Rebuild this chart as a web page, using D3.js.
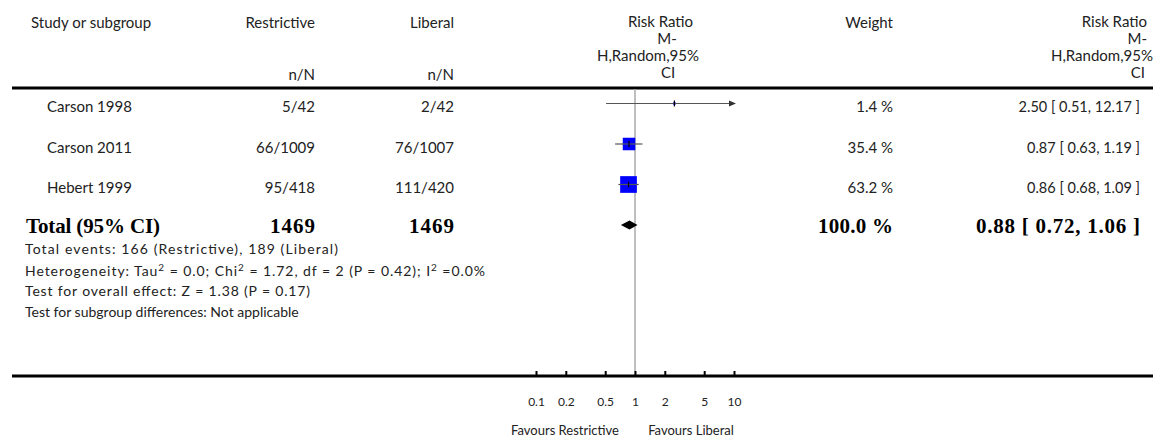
<!DOCTYPE html>
<html><head><meta charset="utf-8">
<script src="https://cdn.jsdelivr.net/npm/d3@7/dist/d3.min.js"></script>
<style>
body{margin:0;background:#fff;}
svg text{font-family:Lato,"Open Sans",sans-serif;fill:#222;}
.b{font-family:"Liberation Serif","DejaVu Serif",serif !important;font-weight:bold;fill:#000 !important;}
</style></head><body>
<svg id="c" width="1167" height="439"></svg>
<script>
const studies = ["Carson 1998","Carson 2011","Hebert 1999"];
const restrictive = ["5/42","66/1009","95/418"];
const liberal = ["2/42","76/1007","111/420"];
const weights = [1.4, 35.4, 63.2];
const rr = [2.50, 0.87, 0.86];
const lower = [0.51, 0.63, 0.68];
const upper = [12.17, 1.19, 1.09];
const total = {label:"Total (95% CI)", nR:"1469", nL:"1469", weight:"100.0 %", rr:0.88, lo:0.72, hi:1.06};
const tickValues = [0.1, 0.2, 0.5, 1, 2, 5, 10];
const tickLabels = ["0.1","0.2","0.5","1","2","5","10"];
const footnotes = [
  "Total events: 166 (Restrictive), 189 (Liberal)",
  "HET",
  "Test for overall effect: Z = 1.38 (P = 0.17)",
  "Test for subgroup differences: Not applicable"
];
const favours = ["Favours Restrictive","Favours Liberal"];

const svg = d3.select("#c");
const x = d3.scaleLog().domain([0.1, 10]).range([536, 734]);
const rows = studies.concat(["Total"]);
const y = d3.scalePoint().domain(rows).range([103.5, 225]);
const boxSize = d3.scaleSqrt().domain([0, 35.4]).range([0, 12.5]);
const fmt = d3.format(".2f");

// header
const hdr = svg.append("g").attr("font-size", 15);
hdr.append("text").attr("x", 31).attr("y", 28).text("Study or subgroup");
hdr.append("text").attr("x", 315).attr("y", 28).attr("text-anchor","end").text("Restrictive");
hdr.append("text").attr("x", 454).attr("y", 28).attr("text-anchor","end").text("Liberal");
hdr.append("text").attr("x", 315).attr("y", 80).attr("text-anchor","end").text("n/N");
hdr.append("text").attr("x", 454).attr("y", 80).attr("text-anchor","end").text("n/N");
const rrLines = ["Risk Ratio","M-","H,Random,95%","CI"];
const rrCx = [660.5, 667, 648, 668];
rrLines.forEach((t,i)=>hdr.append("text").attr("x", rrCx[i]).attr("y", 27+17*i).attr("text-anchor","middle").text(t));
hdr.append("text").attr("x", 893).attr("y", 28).attr("text-anchor","end").text("Weight");
const rrRx = [1147, 1147, 1153, 1145];
rrLines.forEach((t,i)=>hdr.append("text").attr("x", rrRx[i]).attr("y", 27+17*i).attr("text-anchor","end").text(t));

svg.append("line").attr("x1",12).attr("x2",1153).attr("y1",88).attr("y2",88).attr("stroke","#000").attr("stroke-width",3);

// vertical line of no effect
svg.append("line").attr("x1",x(1)).attr("x2",x(1)).attr("y1",89).attr("y2",376).attr("stroke","#aaa").attr("stroke-width",1.5);

// study rows
const g = svg.append("g").attr("font-size", 15);
studies.forEach((s,i)=>{
  const yy = y(s);
  const tb = yy + 8.5;
  g.append("text").attr("x",47).attr("y",tb).text(s);
  g.append("text").attr("x",315).attr("y",tb).attr("text-anchor","end").text(restrictive[i]);
  g.append("text").attr("x",454).attr("y",tb).attr("text-anchor","end").text(liberal[i]);
  g.append("text").attr("x",893).attr("y",tb).attr("text-anchor","end").text(weights[i].toFixed(1)+" %");
  g.append("text").attr("x",1140).attr("y",tb).attr("text-anchor","end").attr("font-size",14.5).text(fmt(rr[i])+" [ "+fmt(lower[i])+", "+fmt(upper[i])+" ]");
  const bs = boxSize(weights[i]);
  g.append("rect").attr("x",x(rr[i])-bs/2).attr("y",yy-bs/2).attr("width",bs).attr("height",bs).attr("fill","#0000ff");
  const hiX = x(Math.min(upper[i],10)), loX = x(Math.max(lower[i],0.1));
  g.append("line").attr("x1",loX).attr("x2",hiX).attr("y1",yy).attr("y2",yy).attr("stroke","#555").attr("stroke-width",1.2);
  if (upper[i] > 10) {
    g.append("path").attr("d",`M${hiX+2},${yy} L${hiX-5},${yy-3} L${hiX-5},${yy+3} Z`).attr("fill","#333");
  }
  g.append("line").attr("x1",x(rr[i])).attr("x2",x(rr[i])).attr("y1",yy-3).attr("y2",yy+3).attr("stroke","#000").attr("stroke-width",1.2);
});

// total row
const ty = y("Total");
const tt = svg.append("g").attr("font-size", 21);
const tcells = [
  {x:26, anchor:"start", t:total.label, w:134},
  {x:315, anchor:"end", t:total.nR, w:45},
  {x:454, anchor:"end", t:total.nL, w:45},
  {x:893, anchor:"end", t:total.weight, w:75},
  {x:1140, anchor:"end", t:fmt(total.rr)+" [ "+fmt(total.lo)+", "+fmt(total.hi)+" ]", w:164}
];
tcells.forEach(c=>tt.append("text").attr("class","b").attr("x",c.x).attr("y",ty+8)
  .attr("text-anchor",c.anchor).attr("textLength",c.w).attr("lengthAdjust","spacing").text(c.t));
svg.append("path").attr("d",`M${x(total.lo)},${ty} L${x(total.rr)},${ty-4.5} L${x(total.hi)},${ty} L${x(total.rr)},${ty+4.5} Z`).attr("fill","#000");

// footnotes
const fn = svg.append("g").attr("font-size", 14);
const fy = [254, 275.5, 296, 317];
const fw = [313, 460, 285, null];
footnotes.forEach((t,i)=>{
  const el = fn.append("text").attr("x",25).attr("y",fy[i]);
  if (fw[i]) el.attr("textLength",fw[i]).attr("lengthAdjust","spacing");
  if (t === "HET") {
    el.append("tspan").text("Heterogeneity: Tau");
    el.append("tspan").attr("dy",-5).attr("font-size",10).text("2");
    el.append("tspan").attr("dy",5).text(" = 0.0; Chi");
    el.append("tspan").attr("dy",-5).attr("font-size",10).text("2");
    el.append("tspan").attr("dy",5).text(" = 1.72, df = 2 (P = 0.42); I");
    el.append("tspan").attr("dy",-5).attr("font-size",10).text("2");
    el.append("tspan").attr("dy",5).text(" =0.0%");
  } else el.text(t);
});

// bottom axis
svg.append("line").attr("x1",12).attr("x2",1153).attr("y1",376).attr("y2",376).attr("stroke","#000").attr("stroke-width",3);
const ax = svg.append("g").attr("transform","translate(0,376)")
  .call(d3.axisBottom(x).tickValues(tickValues).tickFormat((d,i)=>tickLabels[i]).tickSize(-5).tickPadding(21));
ax.select(".domain").remove();
ax.selectAll(".tick line").attr("stroke","#000").attr("stroke-width",2);
ax.selectAll(".tick text").attr("font-size",12).attr("font-family","Lato,sans-serif").attr("fill","#222");

const fv = svg.append("g").attr("font-size", 13);
fv.append("text").attr("x",565).attr("y",434.5).attr("text-anchor","middle").text(favours[0]);
fv.append("text").attr("x",691).attr("y",434.5).attr("text-anchor","middle").text(favours[1]);
</script>
</body></html>
